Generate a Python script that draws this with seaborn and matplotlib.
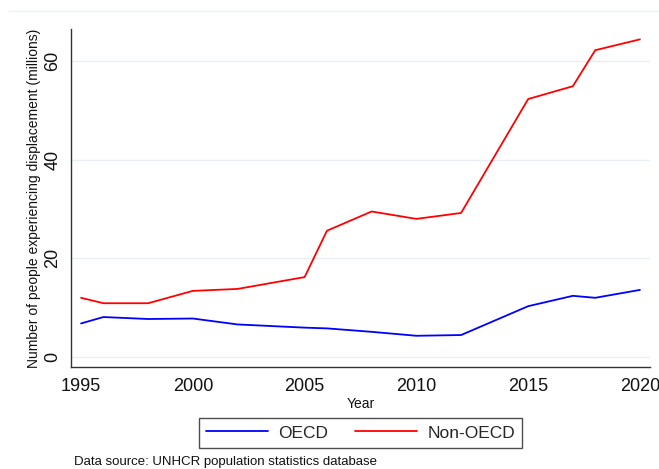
import matplotlib
matplotlib.use("Agg")
import matplotlib.pyplot as plt
from matplotlib.lines import Line2D
import seaborn as sns
import pandas as pd

years = [1995, 1996, 1998, 2000, 2002, 2005, 2006, 2008, 2010, 2012, 2015, 2017, 2018, 2020]
oecd = [6.8, 8.1, 7.7, 7.8, 6.6, 5.95, 5.8, 5.1, 4.3, 4.45, 10.3, 12.4, 12.0, 13.6]
non_oecd = [12.0, 10.9, 10.9, 13.4, 13.8, 16.2, 25.6, 29.5, 28.0, 29.2, 52.3, 54.9, 62.2, 64.4]
series_names = ["OECD", "Non-OECD"]
series_colors = ["#0000ff", "#ff0000"]
x_ticks = [1995, 2000, 2005, 2010, 2015, 2020]
y_ticks = [0, 20, 40, 60]

df = pd.concat([
    pd.DataFrame({"Year": years, "value": oecd, "group": series_names[0]}),
    pd.DataFrame({"Year": years, "value": non_oecd, "group": series_names[1]}),
])

sns.set_theme(style="white")
plt.rcParams["font.family"] = ["Liberation Sans", "DejaVu Sans"]

fig = plt.figure(figsize=(6.59, 4.69), dpi=100)
ax = fig.add_axes([71 / 659, 1 - 367 / 469, (650 - 71) / 659, (367 - 29) / 469])

sns.lineplot(data=df, x="Year", y="value", hue="group",
             palette=dict(zip(series_names, series_colors)),
             linewidth=1.3, ax=ax, legend=False)

ax.set_xlim(1994.55, 2020.45)
ax.set_ylim(-2.03, 66.5)
ax.set_xticks(x_ticks)
ax.set_yticks(y_ticks)
ax.grid(axis="y", color="#e8eff2", linewidth=1.0)
ax.set_axisbelow(True)

for side in ["top", "right"]:
    ax.spines[side].set_visible(False)
for side in ["left", "bottom"]:
    ax.spines[side].set_color("#333333")
    ax.spines[side].set_linewidth(1.0)

ax.tick_params(axis="both", direction="out", length=5, width=1.0,
               color="#333333", labelsize=13, labelcolor="#111111")
ax.tick_params(axis="x", pad=3)
ax.tick_params(axis="y", pad=2)
for lab in ax.get_yticklabels():
    lab.set_rotation(90)
    lab.set_va("center")

ax.set_xlabel("Year", fontsize=10, labelpad=1, color="#111111")
ax.set_ylabel("Number of people experiencing displacement (millions)",
              fontsize=10, labelpad=2, color="#111111")

handles = [Line2D([], [], color=c, linewidth=1.3) for c in series_colors]
leg = fig.legend(handles, series_names, ncol=2, loc="center",
                 bbox_to_anchor=(360.5 / 659, 1 - 433 / 469),
                 fontsize=12.5, frameon=True, fancybox=False,
                 handlelength=3.6, columnspacing=1.5, handletextpad=0.6,
                 borderpad=0.4, borderaxespad=0)
leg.get_frame().set_edgecolor("#222222")
leg.get_frame().set_linewidth(1.0)

fig.text(74 / 659, 1 - 462 / 469, "Data source: UNHCR population statistics database",
         fontsize=9.5, va="center", ha="left", color="#111111")

fig.add_artist(Line2D([9 / 659, 1.0], [1 - 11 / 469, 1 - 11 / 469],
                      color="#eef2f2", linewidth=1.0, transform=fig.transFigure))

fig.savefig("out.png", dpi=100)
